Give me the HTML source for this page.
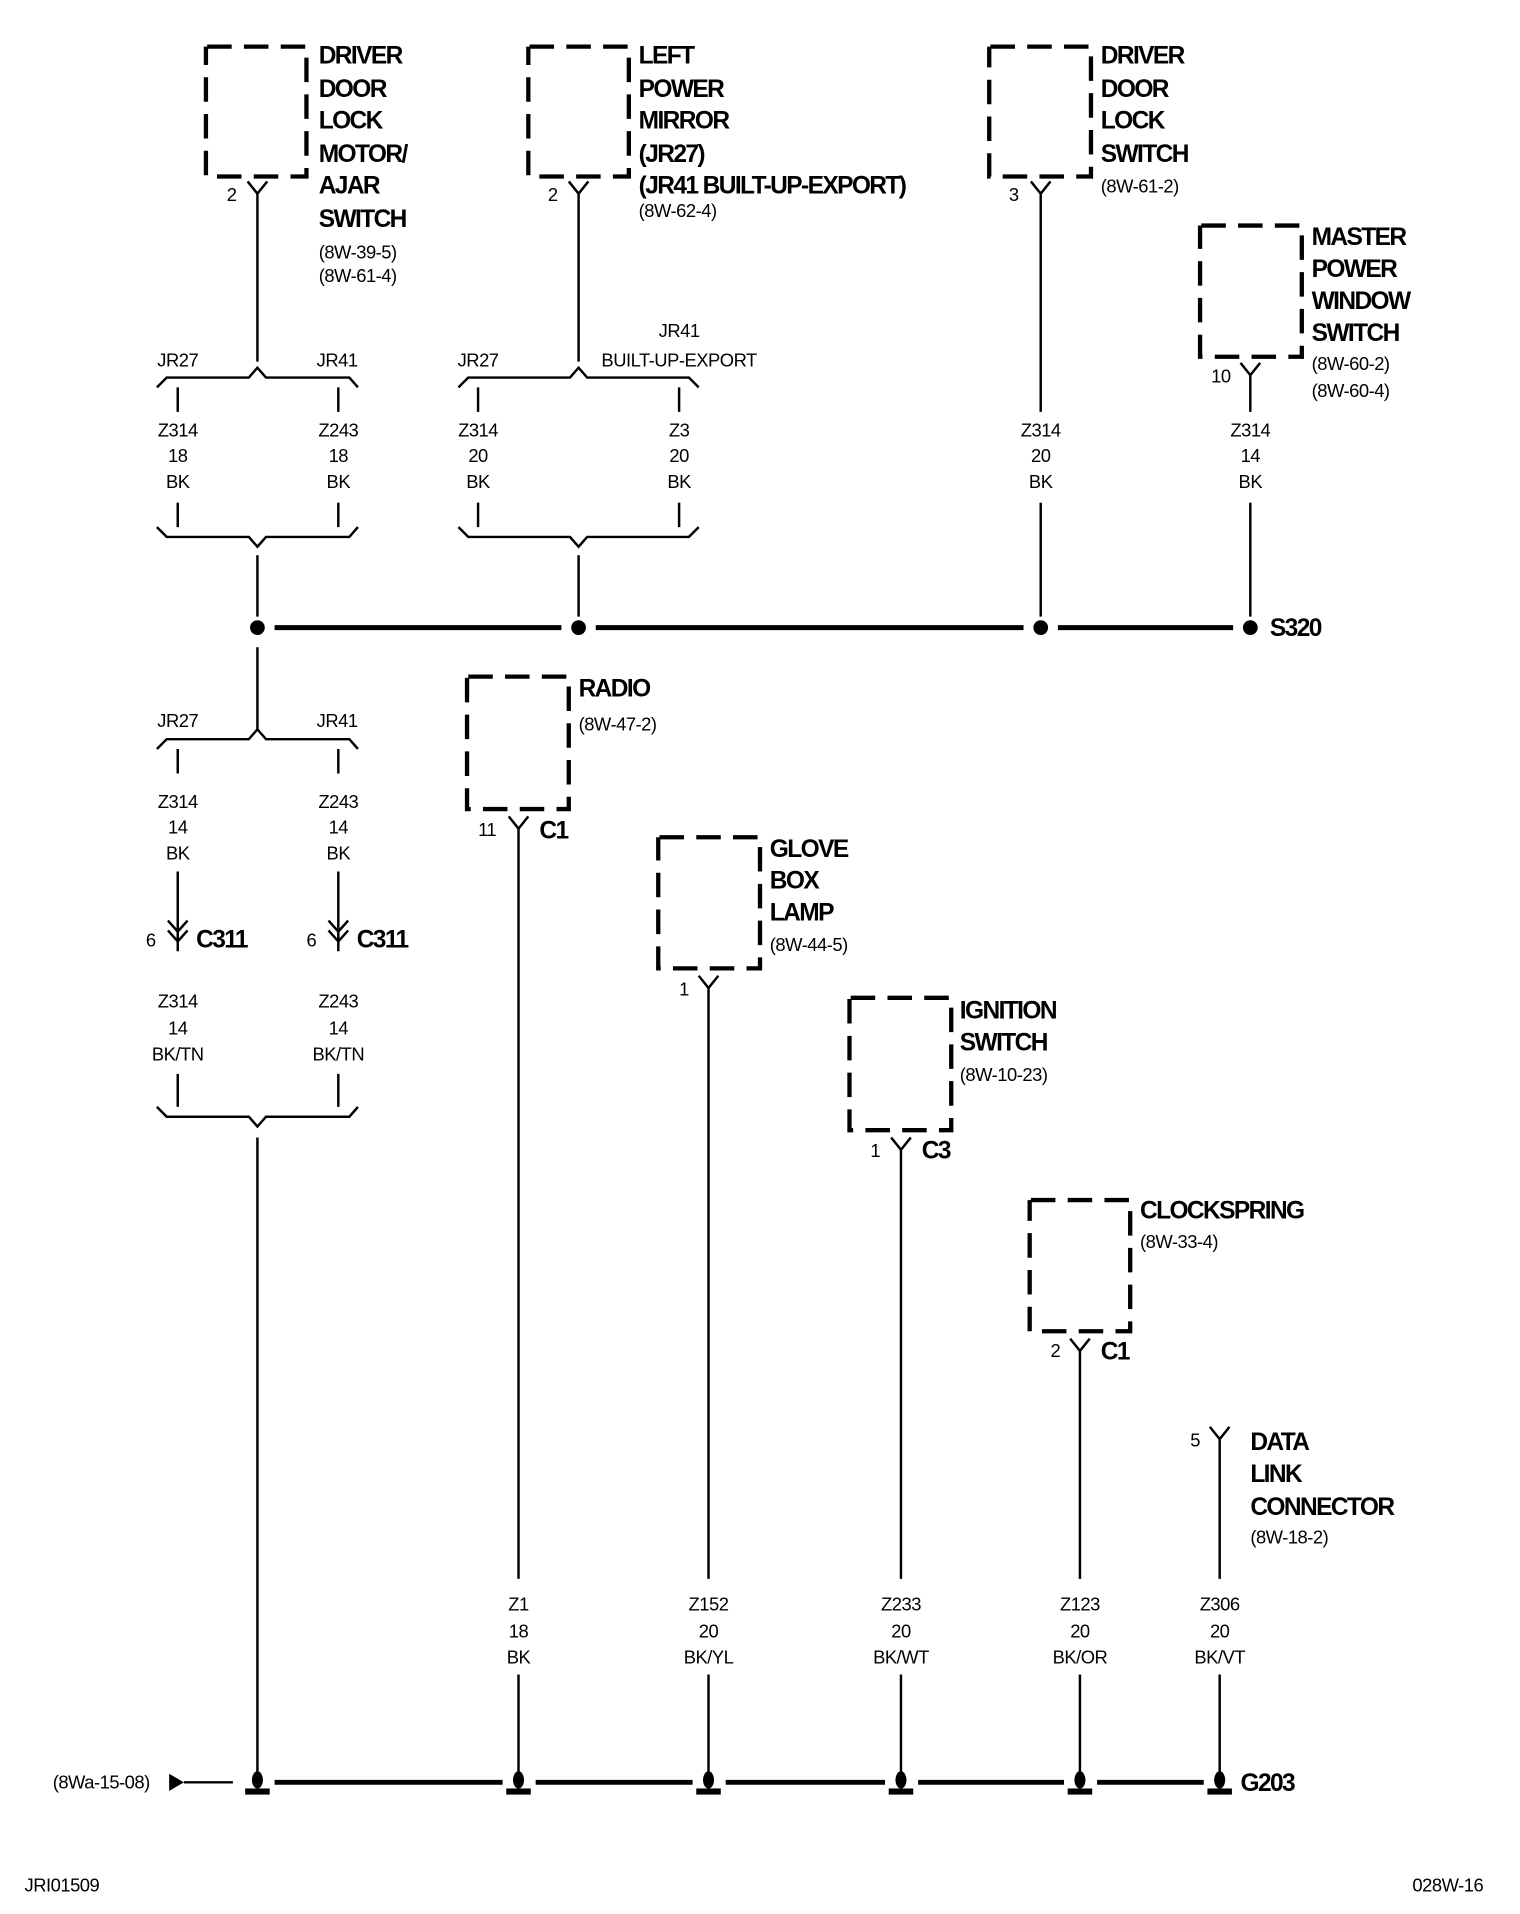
<!DOCTYPE html>
<html><head><meta charset="utf-8"><style>
html,body{margin:0;padding:0;background:#fff;}
svg{display:block;}
text{font-family:"Liberation Sans",sans-serif;fill:#000;}
.b{font-weight:bold;font-size:20px;letter-spacing:-1.3px;}
.s{font-size:15px;letter-spacing:-0.4px;}
</style></head><body>
<svg width="1520" height="1914" viewBox="0 2 1240 1561.4" xmlns="http://www.w3.org/2000/svg">
<g fill="none" stroke="#000" stroke-width="3.5" stroke-dasharray="20 10" stroke-dashoffset="-1">
<rect x="168" y="40" width="82" height="106"/>
<rect x="431" y="40" width="82" height="106"/>
<rect x="807" y="40" width="83" height="106"/>
<rect x="979" y="186" width="83" height="107"/>
<rect x="381" y="554" width="83" height="108"/>
<rect x="537" y="685" width="83" height="107"/>
<rect x="693" y="816" width="83" height="108"/>
<rect x="840" y="981" width="82" height="107"/>
</g>
<g fill="none" stroke="#000" stroke-width="2">
<path d="M202 150 L210 160 L218 150 M210 160 V297"/>
<path d="M464 150 L472 160 L480 150 M472 160 V297"/>
<path d="M841 150 L849 160 L857 150 M849 160 V338 M849 412 V505"/>
<path d="M1012 298 L1020 308 L1028 298 M1020 308 V338 M1020 412 V505"/>
<path d="M415 668 L423 678 L431 668 M423 678 V1290 M423 1368 V1448"/>
<path d="M570 798 L578 808 L586 798 M578 808 V1290 M578 1368 V1448"/>
<path d="M727 930 L735 940 L743 930 M735 940 V1290 M735 1368 V1448"/>
<path d="M873 1094 L881 1104 L889 1094 M881 1104 V1290 M881 1368 V1448"/>
<path d="M987 1166 L995 1176 L1003 1166 M995 1176 V1290 M995 1368 V1448"/>
<path d="M128 318 L136 310 H203 L210 302 L217 310 H285 L292 318"/>
<path d="M145 318 V338 M276 318 V338 M145 412 V432 M276 412 V432"/>
<path d="M128 432 L136 440 H203 L210 448 L217 440 H285 L292 432 M210 455 V505"/>
<path d="M374 318 L382 310 H465 L472 302 L479 310 H562 L570 318"/>
<path d="M390 318 V338 M554 318 V338 M390 412 V432 M554 412 V432"/>
<path d="M374 432 L382 440 H465 L472 448 L479 440 H562 L570 432 M472 455 V505"/>
<path d="M210 530 V597 M128 613 L136 605 H203 L210 597 L217 605 H285 L292 613"/>
<path d="M145 613 V633 M276 613 V633 M145 713 V778 M276 713 V778"/>
<path d="M137 753 L145 762 L153 753 M137 761 L145 770 L153 761 M268 753 L276 762 L284 753 M268 761 L276 770 L284 761"/>
<path d="M145 878 V905 M276 878 V905"/>
<path d="M128 905 L136 913 H203 L210 921 L217 913 H285 L292 905 M210 930 V1448"/>
<path d="M150 1456 H190"/>
</g>
<g stroke="#000" stroke-width="4">
<path d="M224 514 H458 M486 514 H835 M863 514 H1006"/>
<path d="M224 1456 H410 M437 1456 H565 M592 1456 H722 M749 1456 H868 M895 1456 H982"/>
</g>
<g fill="#000">
<circle cx="210" cy="514" r="6"/><circle cx="472" cy="514" r="6"/><circle cx="849" cy="514" r="6"/><circle cx="1020" cy="514" r="6"/>
<polygon points="138,1449 150,1456 138,1463"/>
<g id="gnd"><ellipse cx="210" cy="1454" rx="4.5" ry="7"/><rect x="200" y="1461" width="20" height="5"/></g>
<use href="#gnd" x="213"/><use href="#gnd" x="368"/><use href="#gnd" x="525"/><use href="#gnd" x="671"/><use href="#gnd" x="785"/>
</g>
<g class="b">
<text x="260" y="54">DRIVER</text><text x="260" y="81">DOOR</text><text x="260" y="107">LOCK</text><text x="260" y="134">MOTOR/</text><text x="260" y="160">AJAR</text><text x="260" y="187">SWITCH</text>
<text x="521" y="54">LEFT</text><text x="521" y="81">POWER</text><text x="521" y="107">MIRROR</text><text x="521" y="134">(JR27)</text><text x="521" y="160">(JR41 BUILT-UP-EXPORT)</text>
<text x="898" y="54">DRIVER</text><text x="898" y="81">DOOR</text><text x="898" y="107">LOCK</text><text x="898" y="134">SWITCH</text>
<text x="1070" y="202">MASTER</text><text x="1070" y="228">POWER</text><text x="1070" y="254">WINDOW</text><text x="1070" y="280">SWITCH</text>
<text x="1036" y="521">S320</text>
<text x="160" y="775">C311</text><text x="291" y="775">C311</text>
<text x="472" y="570">RADIO</text><text x="440" y="686">C1</text>
<text x="628" y="701">GLOVE</text><text x="628" y="727">BOX</text><text x="628" y="753">LAMP</text>
<text x="783" y="833">IGNITION</text><text x="783" y="859">SWITCH</text><text x="752" y="947">C3</text>
<text x="930" y="996">CLOCKSPRING</text><text x="898" y="1111">C1</text>
<text x="1020" y="1185">DATA</text><text x="1020" y="1211">LINK</text><text x="1020" y="1238">CONNECTOR</text>
<text x="1012" y="1463">G203</text>
</g>
<g class="s">
<text x="260" y="213">(8W-39-5)</text><text x="260" y="232">(8W-61-4)</text>
<text x="521" y="179">(8W-62-4)</text>
<text x="898" y="159">(8W-61-2)</text>
<text x="1070" y="304">(8W-60-2)</text><text x="1070" y="326">(8W-60-4)</text>
<text x="472" y="598">(8W-47-2)</text><text x="628" y="778">(8W-44-5)</text><text x="783" y="884">(8W-10-23)</text><text x="930" y="1020">(8W-33-4)</text><text x="1020" y="1261">(8W-18-2)</text>
<text x="185" y="166">2</text><text x="447" y="166">2</text><text x="823" y="166">3</text><text x="988" y="314">10</text>
<text x="119" y="774">6</text><text x="250" y="774">6</text>
<text x="390" y="684">11</text><text x="554" y="814">1</text><text x="710" y="946">1</text><text x="857" y="1109">2</text><text x="971" y="1182">5</text>
<text x="43" y="1461">(8Wa-15-08)</text>
<text x="20" y="1545">JRI01509</text><text x="1210" y="1545" text-anchor="end">028W-16</text>
</g>
<g class="s" text-anchor="middle">
<text x="145" y="301">JR27</text><text x="275" y="301">JR41</text>
<text x="390" y="301">JR27</text><text x="554" y="277">JR41</text><text x="554" y="301">BUILT-UP-EXPORT</text>
<text x="145" y="595">JR27</text><text x="275" y="595">JR41</text>
<text x="145" y="358">Z314</text><text x="145" y="379">18</text><text x="145" y="400">BK</text>
<text x="276" y="358">Z243</text><text x="276" y="379">18</text><text x="276" y="400">BK</text>
<text x="390" y="358">Z314</text><text x="390" y="379">20</text><text x="390" y="400">BK</text>
<text x="554" y="358">Z3</text><text x="554" y="379">20</text><text x="554" y="400">BK</text>
<text x="849" y="358">Z314</text><text x="849" y="379">20</text><text x="849" y="400">BK</text>
<text x="1020" y="358">Z314</text><text x="1020" y="379">14</text><text x="1020" y="400">BK</text>
<text x="145" y="661">Z314</text><text x="145" y="682">14</text><text x="145" y="703">BK</text>
<text x="276" y="661">Z243</text><text x="276" y="682">14</text><text x="276" y="703">BK</text>
<text x="145" y="824">Z314</text><text x="145" y="846">14</text><text x="145" y="867">BK/TN</text>
<text x="276" y="824">Z243</text><text x="276" y="846">14</text><text x="276" y="867">BK/TN</text>
<text x="423" y="1316">Z1</text><text x="423" y="1338">18</text><text x="423" y="1359">BK</text>
<text x="578" y="1316">Z152</text><text x="578" y="1338">20</text><text x="578" y="1359">BK/YL</text>
<text x="735" y="1316">Z233</text><text x="735" y="1338">20</text><text x="735" y="1359">BK/WT</text>
<text x="881" y="1316">Z123</text><text x="881" y="1338">20</text><text x="881" y="1359">BK/OR</text>
<text x="995" y="1316">Z306</text><text x="995" y="1338">20</text><text x="995" y="1359">BK/VT</text>
</g>
</svg>
</body></html>
